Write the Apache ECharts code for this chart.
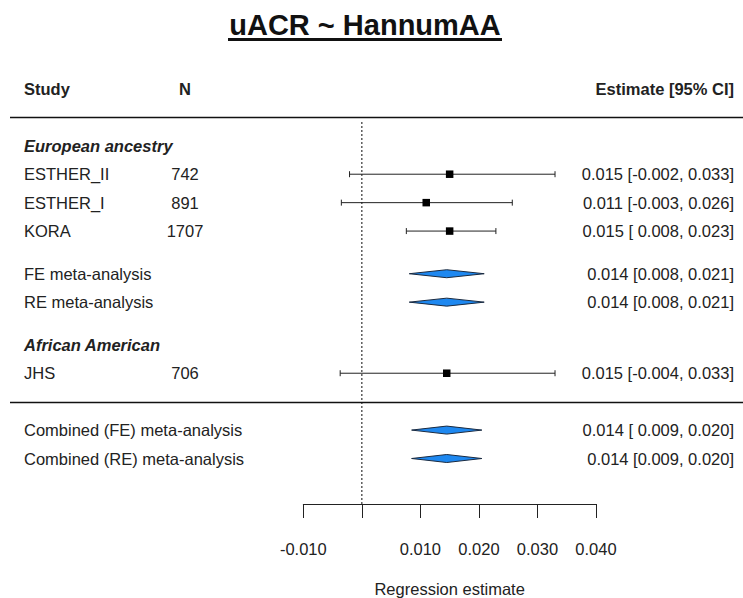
<!DOCTYPE html>
<html>
<head>
<meta charset="utf-8">
<script src="https://cdn.jsdelivr.net/npm/echarts@6/dist/echarts.min.js"></script>
<style>html,body{margin:0;padding:0;background:#fff}#c{width:743px;height:598px}</style>
</head>
<body>
<div id="c"></div>
<script>
// ---- data ----
const studies = ['ESTHER_II', 'ESTHER_I', 'KORA', 'FE meta-analysis', 'RE meta-analysis', 'JHS', 'Combined (FE) meta-analysis', 'Combined (RE) meta-analysis'];
const rowIndex = [1, 2, 3, 4.5, 5.5, 8, 10, 11];
const sampleN = ['742', '891', '1707', '', '', '706', '', ''];
const estimate = [0.015, 0.011, 0.015, 0.0145, 0.0145, 0.0145, 0.0145, 0.0145];
const lower = [-0.0021, -0.0035, 0.0076, 0.0081, 0.0081, -0.0037, 0.0085, 0.0085];
const upper = [0.033, 0.0257, 0.0229, 0.0209, 0.0209, 0.033, 0.0205, 0.0205];
const isSummary = [false, false, false, true, true, false, true, true];
const estimateText = ['0.015 [-0.002, 0.033]', '0.011 [-0.003, 0.026]', '0.015 [ 0.008, 0.023]', '0.014 [0.008, 0.021]', '0.014 [0.008, 0.021]', '0.015 [-0.004, 0.033]', '0.014 [ 0.009, 0.020]', '0.014 [0.009, 0.020]'];
const groupNames = ['European ancestry', 'African American'];
const groupRows = [0, 7];
const headerTexts = ['Study', 'N', 'Estimate [95% CI]'];
const headerRow = -2;
const ruleRows = [-1, 9];
const xTickValues = [-0.01, 0, 0.01, 0.02, 0.03, 0.04];
const xTickLabels = ['-0.010', '', '0.010', '0.020', '0.030', '0.040'];
const titleText = 'uACR ~ HannumAA';
const axisTitle = 'Regression estimate';

// ---- styling ----
const FONT = "'Liberation Sans', Arial, sans-serif";
const FS = 16.5;
const TXT = '#222';
const COL_STUDY = 24, COL_N = 185, COL_EST = 734;

const ciData = [], diaData = [], rowData = [];
studies.forEach((s, i) => {
  const item = [estimate[i], rowIndex[i], lower[i], upper[i], i];
  (isSummary[i] ? diaData : ciData).push(item);
  rowData.push([0, rowIndex[i], i]);
});

function txt(text, x, y, align, weight, style) {
  return {
    type: 'text', x: x, y: y,
    style: {
      text: text, fill: TXT, align: align, verticalAlign: 'middle',
      fontFamily: FONT, fontSize: FS, fontWeight: weight || 'normal', fontStyle: style || 'normal'
    }
  };
}

const option = {
  animation: false,
  backgroundColor: '#fff',
  grid: { left: 303.3, right: 147, top: 60.5, bottom: 94, containLabel: false, outerBoundsMode: 'none' },
  xAxis: {
    type: 'value', min: -0.01, max: 0.04, interval: 0.01,
    axisLine: { show: true, onZero: false, lineStyle: { color: '#222', width: 1 } },
    axisTick: { show: true, length: 14, lineStyle: { color: '#222', width: 1 } },
    axisLabel: {
      margin: 36, fontSize: FS, fontFamily: FONT, color: TXT,
      formatter: v => { const k = xTickValues.findIndex(t => Math.abs(t - v) < 1e-9); return k >= 0 ? xTickLabels[k] : ''; }
    },
    splitLine: { show: false },
    name: axisTitle, nameLocation: 'middle', nameGap: 76,
    nameTextStyle: { fontSize: FS, fontFamily: FONT, color: TXT }
  },
  yAxis: { type: 'value', inverse: true, min: -3, max: 12.6, show: false },
  graphic: [
    { type: 'text', x: 365, y: 25, style: { text: titleText, align: 'center', verticalAlign: 'middle', fontFamily: FONT, fontSize: 29, fontWeight: 'bold', fill: '#111' } },
    { type: 'line', shape: { x1: 228, y1: 39.5, x2: 502, y2: 39.5 }, style: { stroke: '#111', lineWidth: 3 } }
  ],
  series: [
    {
      type: 'line', name: 'null', data: [[0, -0.84], [0, 12.6]], symbol: 'none', silent: true,
      lineStyle: { color: '#333', width: 1.2, type: [2, 2] }, z: 1
    },
    {
      type: 'custom', name: 'ci', data: ciData, clip: false, z: 3,
      encode: { x: 0, y: 1 },
      renderItem: (params, api) => {
        const y = api.coord([0, api.value(1)])[1];
        const xe = api.coord([api.value(0), 0])[0];
        const xl = api.coord([api.value(2), 0])[0];
        const xh = api.coord([api.value(3), 0])[0];
        const s = 7.5;
        const ls = { stroke: '#222', lineWidth: 1 };
        return {
          type: 'group', children: [
            { type: 'line', shape: { x1: xl, y1: y, x2: xh, y2: y }, style: ls },
            { type: 'line', shape: { x1: xl, y1: y - 3, x2: xl, y2: y + 3 }, style: ls },
            { type: 'line', shape: { x1: xh, y1: y - 3, x2: xh, y2: y + 3 }, style: ls },
            { type: 'rect', shape: { x: xe - s / 2, y: y - s / 2, width: s, height: s }, style: { fill: '#000' } }
          ]
        };
      }
    },
    {
      type: 'custom', name: 'summary', data: diaData, clip: false, z: 3,
      encode: { x: 0, y: 1 },
      renderItem: (params, api) => {
        const y = api.coord([0, api.value(1)])[1];
        const xe = api.coord([api.value(0), 0])[0];
        const xl = api.coord([api.value(2), 0])[0];
        const xh = api.coord([api.value(3), 0])[0];
        const h = 4;
        return {
          type: 'polygon',
          shape: { points: [[xl, y], [xe, y - h], [xh, y], [xe, y + h]] },
          style: { fill: '#1E88F0', stroke: '#1a2a40', lineWidth: 1 }
        };
      }
    },
    {
      type: 'custom', name: 'labels', data: rowData, clip: false, silent: true, z: 2,
      encode: { x: 0, y: 1 },
      renderItem: (params, api) => {
        const i = api.value(2);
        const y = api.coord([0, api.value(1)])[1];
        const ch = [txt(studies[i], COL_STUDY, y, 'left'), txt(estimateText[i], COL_EST, y, 'right')];
        if (sampleN[i]) ch.push(txt(sampleN[i], COL_N, y, 'center'));
        if (i === 0) {
          const yh = api.coord([0, headerRow])[1];
          ch.push(txt(headerTexts[0], COL_STUDY, yh, 'left', 'bold'));
          ch.push(txt(headerTexts[1], COL_N, yh, 'center', 'bold'));
          ch.push(txt(headerTexts[2], COL_EST, yh, 'right', 'bold'));
          groupNames.forEach((g, k) => {
            ch.push(txt(g, COL_STUDY, api.coord([0, groupRows[k]])[1], 'left', 'bold', 'italic'));
          });
          ruleRows.forEach(r => {
            const yr = Math.round(api.coord([0, r])[1]) + 0.5;
            ch.push({ type: 'line', shape: { x1: 10, y1: yr, x2: 743, y2: yr }, style: { stroke: '#111', lineWidth: 1.3 } });
          });
        }
        return { type: 'group', children: ch };
      }
    }
  ]
};

const chart = echarts.init(document.getElementById('c'), null, { renderer: 'svg' });
chart.setOption(option);
</script>
</body>
</html>
